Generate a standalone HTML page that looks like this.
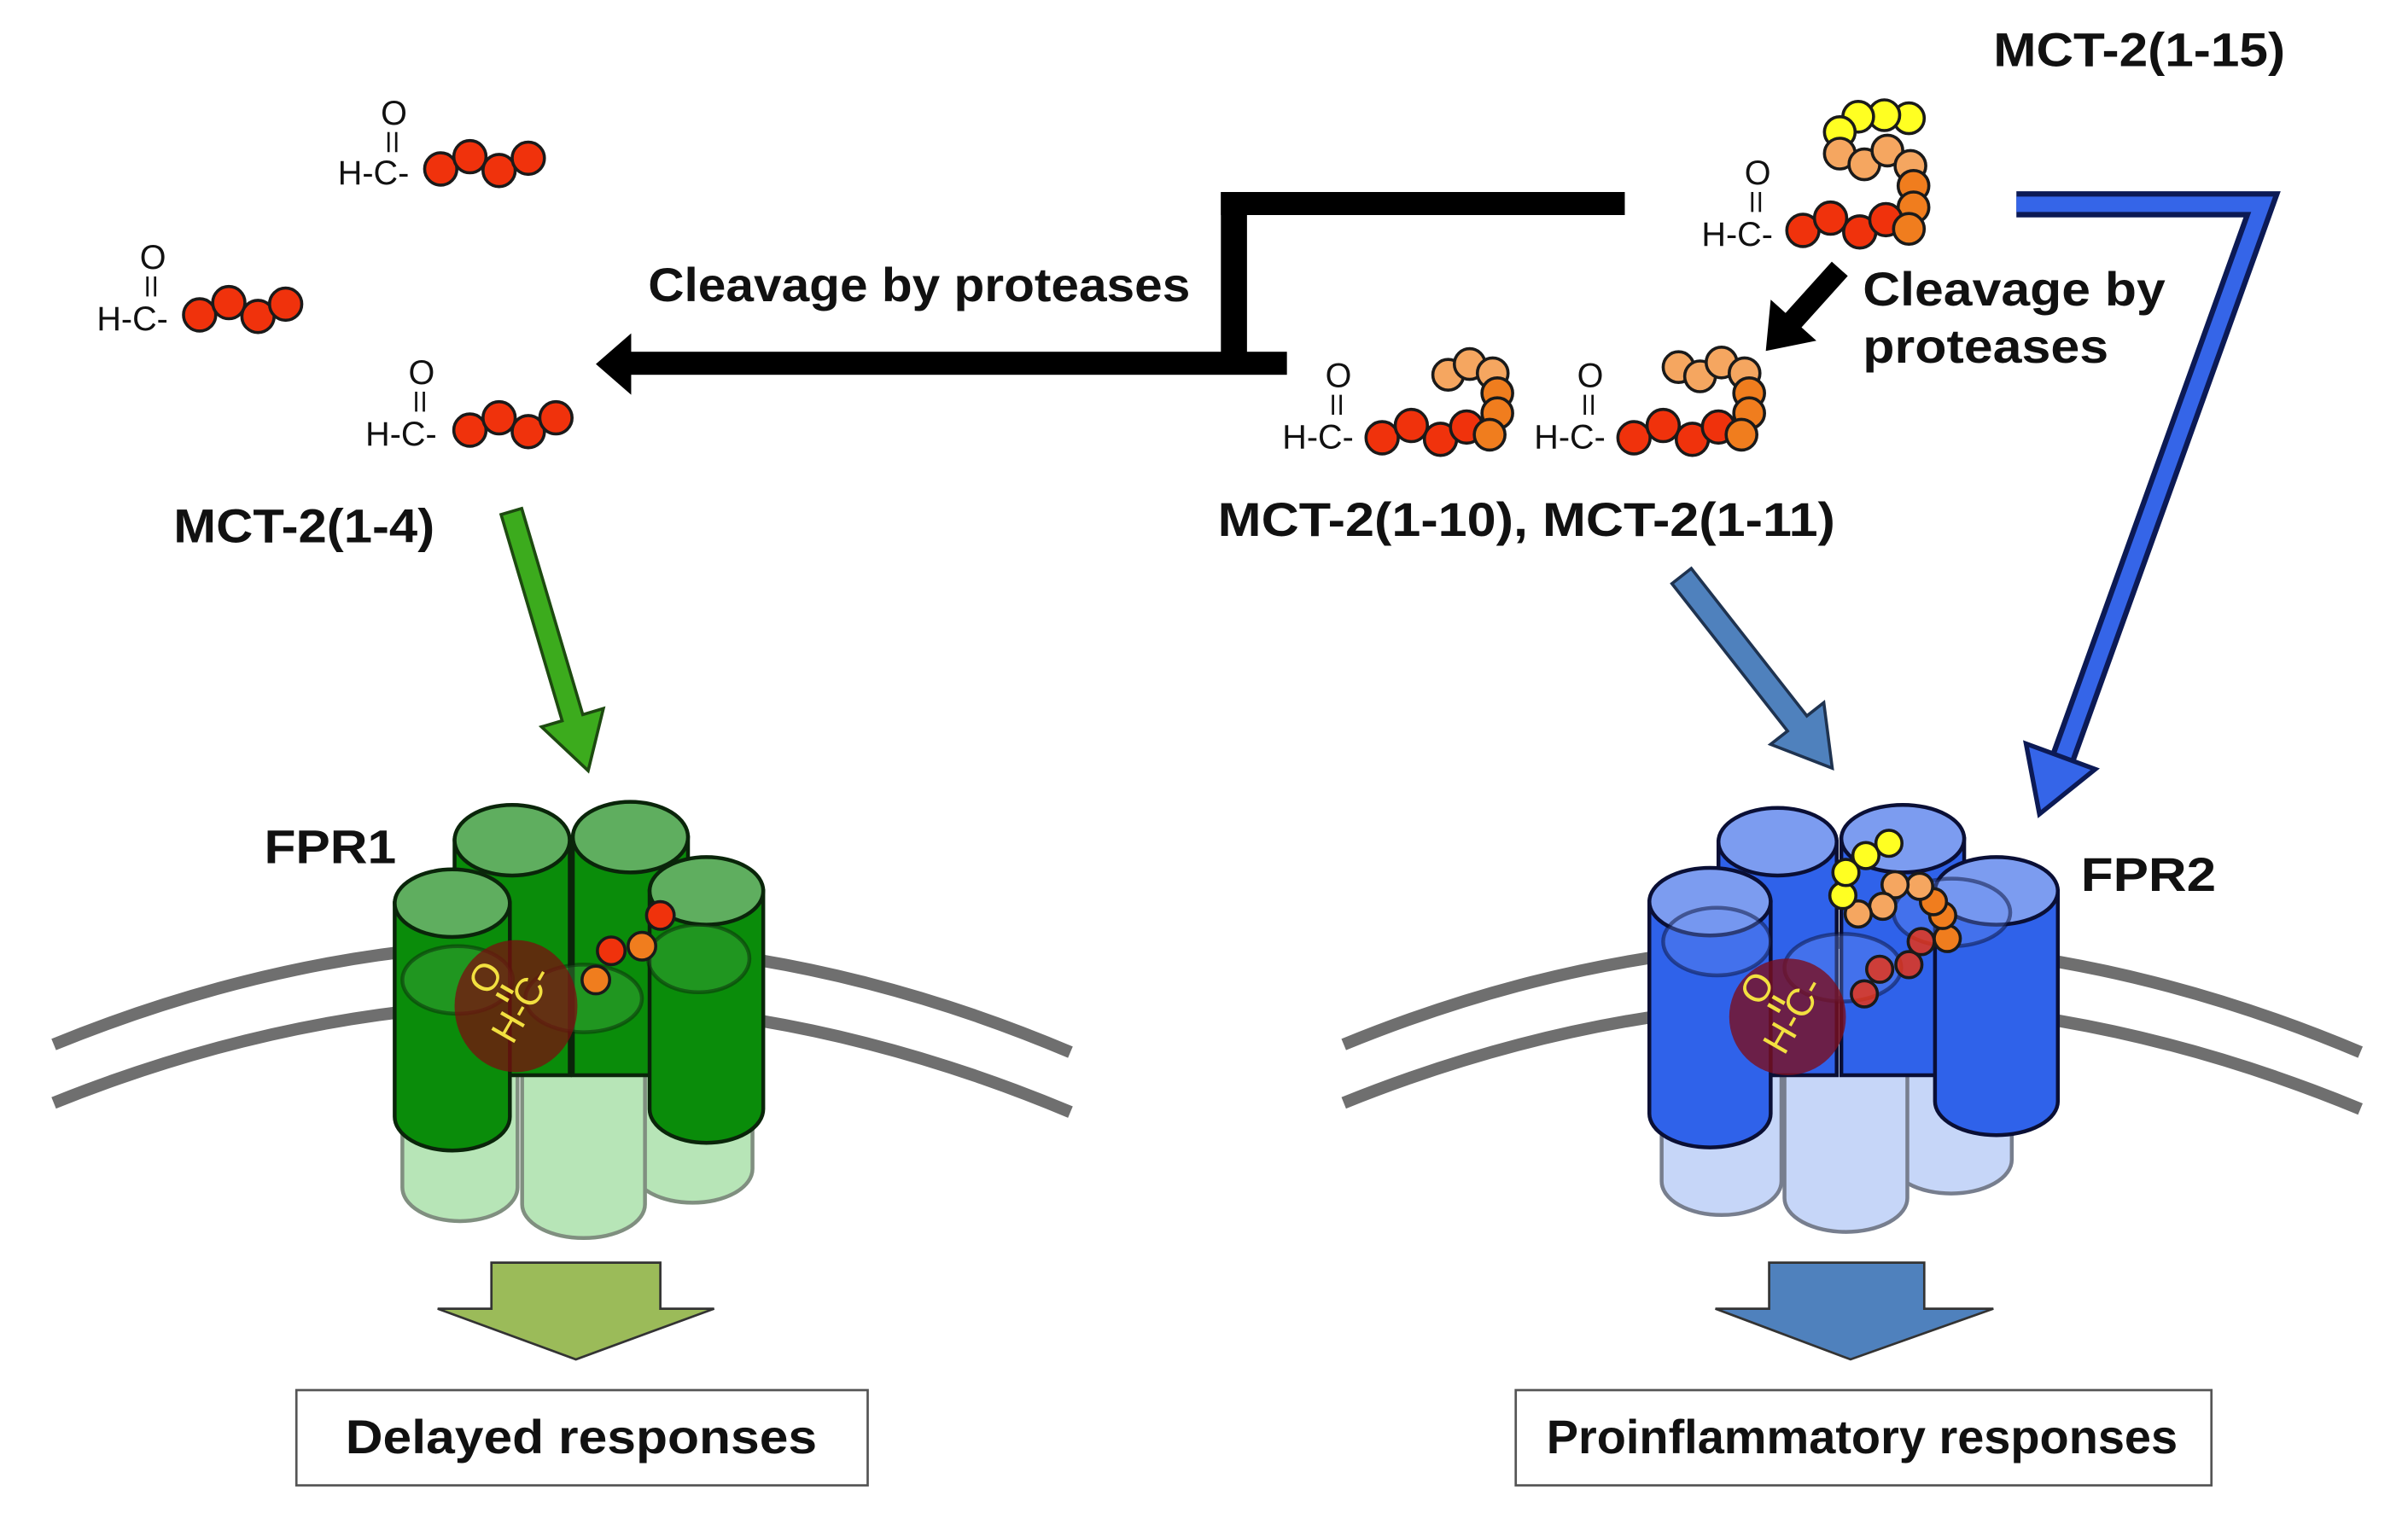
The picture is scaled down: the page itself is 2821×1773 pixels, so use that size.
<!DOCTYPE html>
<html><head><meta charset="utf-8"><style>
html,body{margin:0;padding:0;background:#fff}
svg{display:block}
text{font-family:"Liberation Sans",sans-serif}
.b{font-weight:bold;font-size:31px;fill:#111}
.m{font-size:22px;fill:#111}
.bd{stroke:#1a1a1a;stroke-width:2}
.r{fill:#f0320c}.o{fill:#f07d1e}.l{fill:#f5a660}.y{fill:#ffff22}
</style></head><body>
<svg width="2821" height="1773" viewBox="0 0 1568 985" preserveAspectRatio="none" xmlns="http://www.w3.org/2000/svg">
<rect width="1568" height="985" fill="#fff"/>
<!-- labels -->
<text class="b" x="1298" y="43" textLength="190" lengthAdjust="spacingAndGlyphs">MCT-2(1-15)</text>
<text class="b" x="422" y="196" textLength="353" lengthAdjust="spacingAndGlyphs">Cleavage by proteases</text>
<text class="b" x="1213" y="199" textLength="197" lengthAdjust="spacingAndGlyphs">Cleavage by</text>
<text class="b" x="1213" y="236" textLength="160" lengthAdjust="spacingAndGlyphs">proteases</text>
<text class="b" x="113" y="353" textLength="170" lengthAdjust="spacingAndGlyphs">MCT-2(1-4)</text>
<text class="b" x="793" y="349" textLength="402" lengthAdjust="spacingAndGlyphs">MCT-2(1-10),  MCT-2(1-11)</text>
<text class="b" x="172" y="562" textLength="86" lengthAdjust="spacingAndGlyphs">FPR1</text>
<text class="b" x="1355" y="580" textLength="88" lengthAdjust="spacingAndGlyphs">FPR2</text>

<!-- black connector -->
<rect x="795" y="125" width="263" height="15" fill="#000"/>
<rect x="795" y="125" width="17" height="118" fill="#000"/>
<rect x="408" y="229" width="430" height="15" fill="#000"/>
<polygon points="388,237 411,217 411,257" fill="#000"/>
<g transform="translate(1198,175) rotate(132)"><polygon points="0,-7 45,-7 45,-20 72,0 45,20 45,7 0,7" fill="#000"/></g>

<!-- blue bent arrow -->
<path d="M1313,133 L1473,133 L1342,497" fill="none" stroke="#0c1a55" stroke-width="17"/>
<path d="M1313,133 L1473,133 L1342,497" fill="none" stroke="#3565e8" stroke-width="10"/>
<g transform="translate(1328,530) rotate(-69.8)"><polygon points="0,0 40,-24 40,24" fill="#3565e8" stroke="#0c1a55" stroke-width="3"/></g>

<g transform="translate(333,333) rotate(73.5)"><polygon points="0,-7 140,-7 140,-21 176,0 140,21 140,7 0,7" fill="#3cab1d" stroke="#1d4a10" stroke-width="2"/></g>
<g transform="translate(1095,375) rotate(51.9)"><polygon points="0,-8 122,-8 122,-22 159,0 122,22 122,8 0,8" fill="#4f81bd" stroke="#1f3350" stroke-width="2"/></g>

<!-- molecules -->
<g class="m">
<text x="220" y="120">H-C-</text><text x="248" y="81">O</text><path d="M253,86V99M258,86V99" stroke="#111" stroke-width="1.5"/>
<text x="63" y="215">H-C-</text><text x="91" y="175">O</text><path d="M96,180V193M101,180V193" stroke="#111" stroke-width="1.5"/>
<text x="238" y="290">H-C-</text><text x="266" y="250">O</text><path d="M271,255V268M276,255V268" stroke="#111" stroke-width="1.5"/>
<text x="1108" y="160">H-C-</text><text x="1136" y="120">O</text><path d="M1141,125V138M1146,125V138" stroke="#111" stroke-width="1.5"/>
<text x="835" y="292">H-C-</text><text x="863" y="252">O</text><path d="M868,257V270M873,257V270" stroke="#111" stroke-width="1.5"/>
<text x="999" y="292">H-C-</text><text x="1027" y="252">O</text><path d="M1032,257V270M1037,257V270" stroke="#111" stroke-width="1.5"/>
</g>
<g class="bd">
<circle class="r" cx="287" cy="110" r="10.5"/><circle class="r" cx="306" cy="102" r="10.5"/><circle class="r" cx="325" cy="111" r="10.5"/><circle class="r" cx="344" cy="103" r="10.5"/>
<circle class="r" cx="130" cy="205" r="10.5"/><circle class="r" cx="149" cy="197" r="10.5"/><circle class="r" cx="168" cy="206" r="10.5"/><circle class="r" cx="186" cy="198" r="10.5"/>
<circle class="r" cx="306" cy="280" r="10.5"/><circle class="r" cx="325" cy="272" r="10.5"/><circle class="r" cx="344" cy="281" r="10.5"/><circle class="r" cx="362" cy="272" r="10.5"/>
<circle class="y" cx="1243" cy="77" r="10"/><circle class="y" cx="1227" cy="75" r="10"/><circle class="y" cx="1210" cy="76" r="10"/><circle class="y" cx="1198" cy="86" r="10"/>
<circle class="l" cx="1198" cy="100" r="10"/><circle class="l" cx="1214" cy="107" r="10"/><circle class="l" cx="1229" cy="98" r="10"/><circle class="l" cx="1244" cy="108" r="10"/>
<circle class="o" cx="1246" cy="121" r="10"/><circle class="o" cx="1246" cy="135" r="10"/>
<circle class="r" cx="1174" cy="150" r="10.5"/><circle class="r" cx="1192" cy="142" r="10.5"/><circle class="r" cx="1211" cy="151" r="10.5"/><circle class="r" cx="1228" cy="143" r="10.5"/>
<circle class="o" cx="1243" cy="149" r="10"/>
<circle class="l" cx="943" cy="244" r="10"/><circle class="l" cx="957" cy="237" r="10"/><circle class="l" cx="972" cy="243" r="10"/>
<circle class="o" cx="975" cy="256" r="10"/><circle class="o" cx="975" cy="269" r="10"/>
<circle class="r" cx="900" cy="285" r="10.5"/><circle class="r" cx="919" cy="277" r="10.5"/><circle class="r" cx="938" cy="286" r="10.5"/><circle class="r" cx="955" cy="278" r="10.5"/>
<circle class="o" cx="970" cy="283" r="10"/>
<circle class="l" cx="1093" cy="239" r="10"/><circle class="l" cx="1107" cy="245" r="10"/><circle class="l" cx="1121" cy="236" r="10"/><circle class="l" cx="1136" cy="243" r="10"/>
<circle class="o" cx="1139" cy="256" r="10"/><circle class="o" cx="1139" cy="269" r="10"/>
<circle class="r" cx="1064" cy="285" r="10.5"/><circle class="r" cx="1083" cy="277" r="10.5"/><circle class="r" cx="1102" cy="286" r="10.5"/><circle class="r" cx="1119" cy="278" r="10.5"/>
<circle class="o" cx="1134" cy="283" r="10"/>
</g>

<!-- membranes -->
<g fill="none" stroke="#6f6f6f" stroke-width="8">
<path d="M35,680 Q366,545 697,685"/><path d="M35,718 Q366,585 697,724"/>
<path d="M875,680 Q1205,545 1537,685"/><path d="M875,718 Q1205,585 1537,722"/>
</g>

<!-- FPR1 -->
<g stroke-width="2.5">
<g fill="#b4e4b4" stroke="#7a8a7a" opacity="0.95">
<path d="M262,640 V773 A37.5,22 0 0 0 337,773 V640 Z"/>
<path d="M412,630 V761 A39,22 0 0 0 490,761 V630 Z"/>
<path d="M340,650 V784 A40,22 0 0 0 420,784 V650 Z"/>
</g>
<g stroke="#0a250a">
<path d="M296,547 V700 H371 V547 Z" fill="#0a8c0a"/><ellipse cx="333.5" cy="547" rx="37.5" ry="23" fill="#5fae5f"/>
<path d="M373,545 V700 H448 V545 Z" fill="#0a8c0a"/><ellipse cx="410.5" cy="545" rx="37.5" ry="23" fill="#5fae5f"/>
<path d="M257,588 V727 A37.5,22 0 0 0 332,727 V588 Z" fill="#0a8c0a"/><ellipse cx="294.5" cy="588" rx="37.5" ry="22" fill="#5fae5f"/>
<path d="M423,580 V722 A37,22 0 0 0 497,722 V580 Z" fill="#0a8c0a"/><ellipse cx="460" cy="580" rx="37" ry="22" fill="#5fae5f"/>
</g>
<g fill="#4aa84a" fill-opacity="0.35" stroke="#0a250a" stroke-opacity="0.5">
<ellipse cx="298" cy="638" rx="36" ry="22"/><ellipse cx="380" cy="650" rx="38" ry="22"/><ellipse cx="455" cy="624" rx="33" ry="22"/>
</g>
</g>
<ellipse cx="336" cy="655" rx="40" ry="43" fill="#7a0f0f" fill-opacity="0.75"/>
<g transform="translate(340,652) rotate(-60)" fill="#f2e040" font-family="Liberation Sans" font-size="25">
<text x="-28" y="9">H-C-</text><text x="-8" y="-20">O</text><path d="M-4,-17V-8M2,-17V-8" stroke="#f2e040" stroke-width="2.5"/>
</g>
<g class="bd"><circle class="o" cx="388" cy="638" r="9"/><circle class="r" cx="398" cy="619" r="9"/><circle class="o" cx="418" cy="616" r="9"/><circle class="r" cx="430" cy="596" r="9"/></g>

<!-- FPR2 -->
<g stroke-width="2.5">
<g fill="#c4d4f8" stroke="#707888" opacity="0.95">
<path d="M1082,640 V769 A39,22 0 0 0 1160,769 V640 Z"/>
<path d="M1231,630 V755 A39.5,22 0 0 0 1310,755 V630 Z"/>
<path d="M1162,650 V780 A40,22 0 0 0 1242,780 V650 Z"/>
</g>
<g stroke="#0a0f35">
<path d="M1119,548 V700 H1196 V548 Z" fill="#2f62ea"/><ellipse cx="1157.5" cy="548" rx="38.5" ry="22" fill="#7c9cf0"/>
<path d="M1199,546 V700 H1279 V546 Z" fill="#2f62ea"/><ellipse cx="1239" cy="546" rx="40" ry="22" fill="#7c9cf0"/>
<path d="M1074,587 V725 A39.5,22 0 0 0 1153,725 V587 Z" fill="#2f62ea"/><ellipse cx="1113.5" cy="587" rx="39.5" ry="22" fill="#7c9cf0"/>
<path d="M1260,580 V717 A40,22 0 0 0 1340,717 V580 Z" fill="#2f62ea"/><ellipse cx="1300" cy="580" rx="40" ry="22" fill="#7c9cf0"/>
</g>
<g fill="#6a8ef0" fill-opacity="0.35" stroke="#0a0f35" stroke-opacity="0.5">
<ellipse cx="1118" cy="613" rx="35" ry="22"/><ellipse cx="1200" cy="630" rx="38" ry="22"/><ellipse cx="1271" cy="594" rx="38" ry="22"/>
</g>
</g>
<circle cx="1164" cy="662" r="38" fill="#7a0f1f" fill-opacity="0.8"/>
<g transform="translate(1168,659) rotate(-60)" fill="#f2e040" font-family="Liberation Sans" font-size="25">
<text x="-28" y="9">H-C-</text><text x="-8" y="-20">O</text><path d="M-4,-17V-8M2,-17V-8" stroke="#f2e040" stroke-width="2.5"/>
</g>
<g class="bd">
<circle class="r" cx="1214" cy="647" r="8.5" fill-opacity=".8"/><circle class="r" cx="1224" cy="631" r="8.5" fill-opacity=".8"/><circle class="r" cx="1243" cy="628" r="8.5" fill-opacity=".8"/><circle class="r" cx="1251" cy="613" r="8.5" fill-opacity=".8"/>
<circle class="o" cx="1268" cy="611" r="8.5"/><circle class="o" cx="1265" cy="596" r="8.5"/><circle class="o" cx="1259" cy="587" r="8.5"/>
<circle class="l" cx="1250" cy="577" r="8.5"/><circle class="l" cx="1234" cy="576" r="8.5"/><circle class="l" cx="1226" cy="590" r="8.5"/><circle class="l" cx="1210" cy="595" r="8.5"/>
<circle class="y" cx="1200" cy="583" r="8.5"/><circle class="y" cx="1202" cy="568" r="8.5"/><circle class="y" cx="1215" cy="557" r="8.5"/><circle class="y" cx="1230" cy="549" r="8.5"/>
</g>

<!-- block arrows -->
<polygon points="320,822 430,822 430,852 465,852 375,885 285,852 320,852" fill="#9bbb59" stroke="#333" stroke-width="1.5"/>
<polygon points="1152,822 1253,822 1253,852 1298,852 1205,885 1117,852 1152,852" fill="#4f81bd" stroke="#333" stroke-width="1.5"/>

<!-- boxes -->
<rect x="193" y="905" width="372" height="62" fill="#fff" stroke="#555" stroke-width="1.5"/>
<text class="b" x="225" y="946" textLength="307" lengthAdjust="spacingAndGlyphs">Delayed responses</text>
<rect x="987" y="905" width="453" height="62" fill="#fff" stroke="#555" stroke-width="1.5"/>
<text class="b" x="1007" y="946" textLength="411" lengthAdjust="spacingAndGlyphs">Proinflammatory  responses</text>
</svg>
</body></html>
